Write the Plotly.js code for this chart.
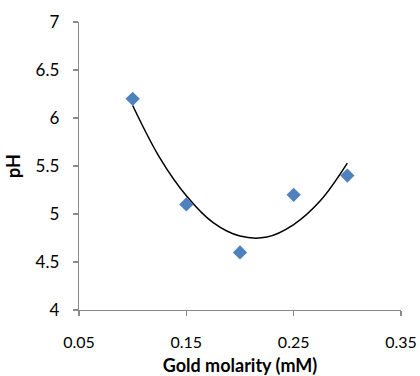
<!DOCTYPE html>
<html>
<head>
<meta charset="utf-8">
<script src="https://cdn.plot.ly/plotly-3.0.1.min.js"></script>
<style>html,body{margin:0;padding:0;background:#fff}#chart{width:420px;height:376px}</style>
</head>
<body>
<div id="chart"></div>
<script>
// Measured data points
var goldMolarity = [0.1, 0.15, 0.2, 0.25, 0.3];
var pHValues = [6.2, 5.1, 4.6, 5.2, 5.4];
// Trend curve points
var trendX = [0.1, 0.125, 0.15, 0.175, 0.2, 0.225, 0.25, 0.275, 0.3];
var trendY = [6.13, 5.59, 5.19, 4.91, 4.77, 4.76, 4.89, 5.14, 5.53];

var fontFam = 'Lato, "Open Sans", sans-serif';

var traces = [
  {
    x: trendX, y: trendY, type: 'scatter', mode: 'lines',
    line: {color: '#000000', width: 1.5, shape: 'spline', smoothing: 1},
    hoverinfo: 'skip'
  },
  {
    x: goldMolarity, y: pHValues, type: 'scatter', mode: 'markers',
    marker: {symbol: 'diamond', size: 11, color: '#4F81BD'}
  }
];

var layout = {
  width: 420, height: 376,
  margin: {l: 79, r: 19, t: 22, b: 66},
  paper_bgcolor: '#ffffff', plot_bgcolor: '#ffffff',
  showlegend: false,
  font: {family: fontFam, color: '#000000', size: 16},
  xaxis: {
    range: [0.05, 0.35], tick0: 0.05, dtick: 0.1,
    showgrid: false, zeroline: false,
    showline: true, linecolor: '#8a8a8a', linewidth: 1.3,
    ticks: 'outside', ticklen: 5, tickcolor: '#8a8a8a', tickwidth: 1.3,
    tickfont: {family: fontFam, size: 16, color: '#000'},
    ticklabelstandoff: 12,
    title: {text: '<b>Gold molarity (mM)</b>', font: {family: fontFam, size: 18, color: '#000'}, standoff: 16}
  },
  yaxis: {
    range: [4, 7], tick0: 4, dtick: 0.5,
    showgrid: false, zeroline: false,
    showline: true, linecolor: '#8a8a8a', linewidth: 1.3,
    ticks: 'outside', ticklen: 5, tickcolor: '#8a8a8a', tickwidth: 1.3,
    tickfont: {family: fontFam, size: 17, color: '#000'},
    ticklabelstandoff: 10,
    title: {text: '<b>pH</b>', font: {family: fontFam, size: 18, color: '#000'}, standoff: 10}
  }
};

Plotly.newPlot('chart', traces, layout, {displayModeBar: false, staticPlot: true});
</script>
</body>
</html>
